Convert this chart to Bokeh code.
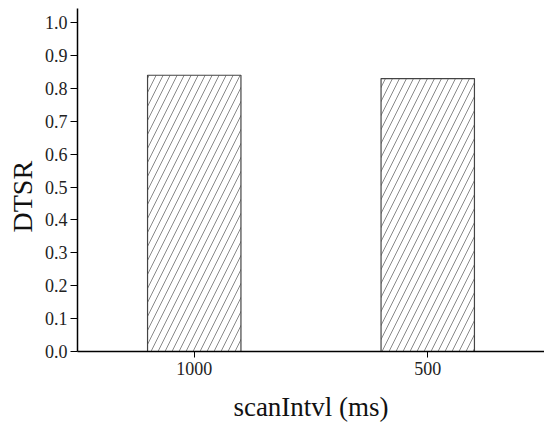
from bokeh.plotting import figure
from bokeh.models import Range1d, FactorRange, NumeralTickFormatter, Title
from bokeh.embed import file_html
from bokeh.resources import INLINE

categories = ["1000", "500"]
dtsr_values = [0.84, 0.83]
y_ticks = [0.0, 0.1, 0.2, 0.3, 0.4, 0.5, 0.6, 0.7, 0.8, 0.9, 1.0]

FONT = "Liberation Serif"

p = figure(x_range=FactorRange(*categories, range_padding=0), y_range=Range1d(0, 1.043),
           frame_width=467, frame_height=343, width=544, height=419,
           min_border_left=77, min_border_right=0, min_border_top=8, min_border_bottom=68,
           output_backend="svg", toolbar_location=None)

p.vbar(x=categories, top=dtsr_values, width=0.4, fill_color="white", line_color="#444444",
       line_width=1.2, hatch_pattern="right_diagonal_line", hatch_color="#6a6a6a",
       hatch_scale=14, hatch_weight=0.8)

p.outline_line_color = None
p.xgrid.visible = False
p.ygrid.visible = False

p.yaxis.ticker = y_ticks
p.yaxis.formatter = NumeralTickFormatter(format="0.0")
p.yaxis.minor_tick_line_color = None
p.yaxis.major_tick_out = 7
p.yaxis.major_tick_in = 0
p.yaxis.major_label_standoff = 3
p.yaxis.axis_line_width = 1.5
p.yaxis.major_label_text_font = FONT
p.yaxis.major_label_text_font_size = "18px"
p.yaxis.major_label_text_color = "#222222"

ytitle = Title(text="DTSR", align="left", offset=119, standoff=8,
               text_font=FONT, text_font_size="28px", text_font_style="normal",
               text_color="#111111")
p.add_layout(ytitle, "left")

p.xaxis.major_tick_out = 6
p.xaxis.major_tick_in = 0
p.xaxis.major_label_standoff = 4
p.xaxis.axis_line_width = 1.5
p.xaxis.major_label_text_font = FONT
p.xaxis.major_label_text_font_size = "18px"
p.xaxis.major_label_text_color = "#222222"
p.xaxis.axis_label = "scanIntvl (ms)"
p.xaxis.axis_label_text_font = FONT
p.xaxis.axis_label_text_font_size = "27px"
p.xaxis.axis_label_text_font_style = "normal"
p.xaxis.axis_label_text_color = "#111111"
p.xaxis.axis_label_standoff = 14

open("out.html", "w").write(file_html(p, INLINE))
